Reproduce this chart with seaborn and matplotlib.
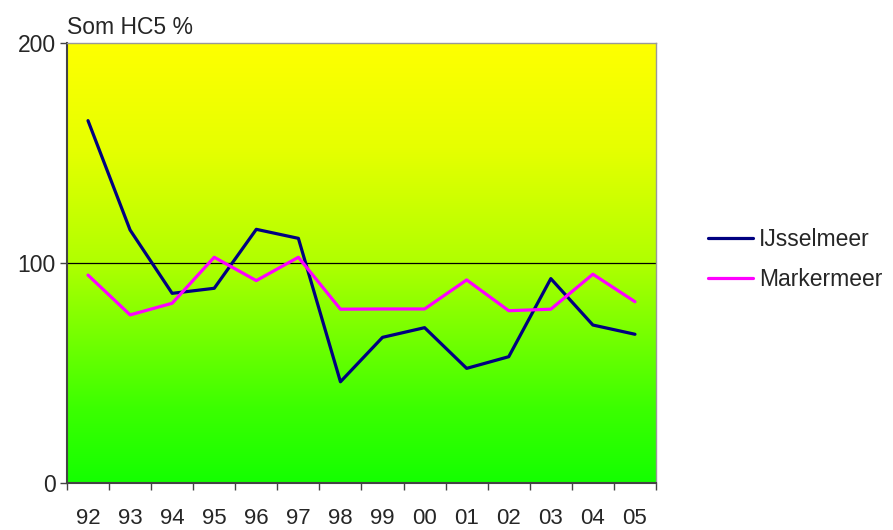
import numpy as np
import pandas as pd
import seaborn as sns
import matplotlib.pyplot as plt
from matplotlib.colors import LinearSegmentedColormap

years = ["92", "93", "94", "95", "96", "97", "98", "99", "00", "01", "02", "03", "04", "05"]
ijsselmeer = [164.7, 115, 86.2, 88.5, 115.3, 111.2, 46, 66.2, 70.6, 52.1, 57.4, 92.9, 71.8, 67.6]
markermeer = [94.5, 76.4, 81.7, 102.6, 92, 102.6, 79, 79.1, 79.1, 92.3, 78.3, 79, 94.9, 82.4]
series_names = ["IJsselmeer", "Markermeer"]
y_ticks = [0, 100, 200]

df = pd.concat([
    pd.DataFrame({"pos": range(len(years)), "value": ijsselmeer, "serie": series_names[0]}),
    pd.DataFrame({"pos": range(len(years)), "value": markermeer, "serie": series_names[1]}),
], ignore_index=True)

sns.set_style("white")
plt.rcParams['font.family'] = ['Liberation Sans', 'DejaVu Sans']

fig = plt.figure(figsize=(8.93, 5.30), dpi=100)
ax = fig.add_axes([0.075, 0.0887, 0.6596, 0.8302])

# yellow -> green background gradient
cmap = LinearSegmentedColormap.from_list("yg", [
    (0.0, "#14ff00"), (0.17, "#3cff00"), (0.5, "#b0ff00"),
    (0.76, "#e6ff00"), (1.0, "#ffff00")])
grad = np.linspace(0, 1, 256).reshape(-1, 1)
ax.imshow(grad, cmap=cmap, aspect="auto", origin="lower",
          extent=[0, 1, 0, 1], transform=ax.transAxes, zorder=0)

ax.axhline(100, color="black", lw=0.9, zorder=1)

sns.lineplot(data=df, x="pos", y="value", hue="serie",
             palette={"IJsselmeer": "#000080", "Markermeer": "#ff00ff"},
             linewidth=2.3, ax=ax, zorder=3)

ax.set_xlim(-0.5, len(years) - 0.5)
ax.set_ylim(0, 200)
ax.set_yticks(y_ticks)
ax.set_yticklabels([str(v) for v in y_ticks], fontsize=16.5)
ax.set_xticks(np.arange(-0.5, len(years), 1.0))
ax.set_xticklabels([])
ax.set_xticks(range(len(years)), minor=True)
ax.set_xticklabels(years, minor=True, fontsize=16)
ax.tick_params(axis="x", which="major", direction="out", length=5, width=1, color="#444444", bottom=True)
ax.tick_params(axis="x", which="minor", length=0, pad=18)
ax.tick_params(axis="y", direction="out", length=5, width=1, color="#444444", left=True, pad=3)
ax.set_xlabel("")
ax.set_ylabel("")

for side in ["left", "bottom"]:
    ax.spines[side].set_color("#444444")
    ax.spines[side].set_linewidth(1.5)
for side in ["top", "right"]:
    ax.spines[side].set_color("#999999")
    ax.spines[side].set_linewidth(1)

ax.text(0, 1.008, "Som HC5 %", transform=ax.transAxes, fontsize=16.5,
        ha="left", va="bottom")

leg = ax.legend(loc="center left", bbox_to_anchor=(1.072, 0.507), frameon=False,
                fontsize=16.5, handlelength=2.0, handletextpad=0.25, labelspacing=0.75,
                borderaxespad=0)

fig.savefig("out.png", dpi=100)
